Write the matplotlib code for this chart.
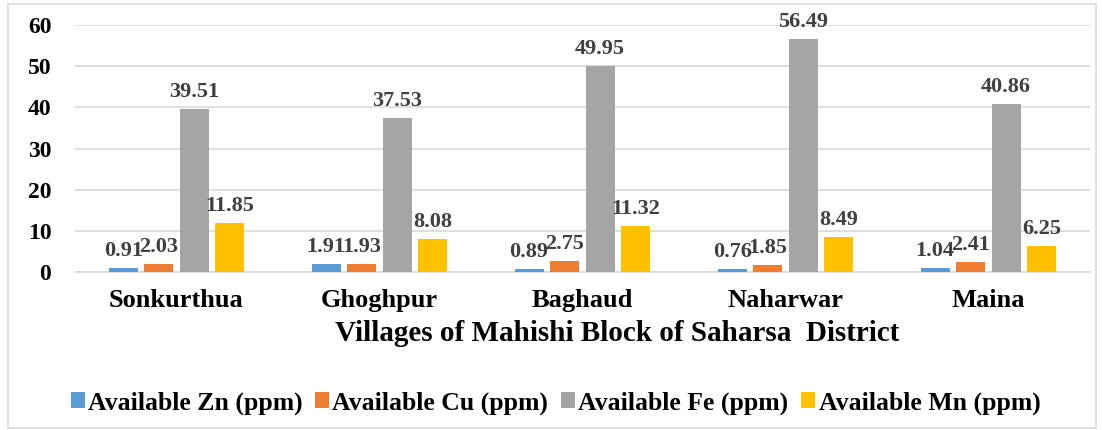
import numpy as np
from matplotlib import pyplot as plt
from matplotlib.patches import Rectangle

villages = ['Sonkurthua', 'Ghoghpur', 'Baghaud', 'Naharwar', 'Maina']
zn = [0.91, 1.91, 0.89, 0.76, 1.04]
cu = [2.03, 1.93, 2.75, 1.85, 2.41]
fe = [39.51, 37.53, 49.95, 56.49, 40.86]
mn = [11.85, 8.08, 11.32, 8.49, 6.25]
series_names = ['Available Zn (ppm)', 'Available Cu (ppm)',
                'Available Fe (ppm)', 'Available Mn (ppm)']
colors = ['#5B9BD5', '#ED7D31', '#A5A5A5', '#FFC000']

plt.rcParams['font.family'] = ['Liberation Serif', 'DejaVu Serif']
plt.rcParams['font.weight'] = 'bold'

fig = plt.figure(figsize=(11.02, 4.30), dpi=100)
ax = fig.add_axes([0.068, 0.367, 0.921, 0.575])

x = np.arange(len(villages))
width = 0.143
pitch = 0.175
for i, (vals, name, c) in enumerate(zip([zn, cu, fe, mn], series_names, colors)):
    pos = x + (i - 1.5) * pitch
    bars = ax.bar(pos, vals, width, color=c, label=name, zorder=3)
    ax.bar_label(bars, labels=[f'{v:g}' for v in vals],
                 padding=5, fontsize=16, fontweight='bold', color='#404040')

ax.set_xlim(-0.5, len(villages) - 0.5)
ax.set_ylim(0, 60)
ax.set_yticks(range(0, 61, 10))
ax.yaxis.grid(True, color='#d9d9d9', linewidth=1.2, zorder=0)
ax.tick_params(axis='y', length=0, labelsize=17, pad=17)
ax.tick_params(axis='x', length=0, labelsize=19, pad=12)
ax.set_xticks(x)
ax.set_xticklabels(villages, fontweight='bold')
for lab in ax.get_yticklabels():
    lab.set_fontweight('bold')
for s in ['top', 'right', 'left']:
    ax.spines[s].set_visible(False)
ax.spines['bottom'].set_color('#d9d9d9')
ax.spines['bottom'].set_linewidth(1.2)

ax.set_xlabel('Villages of Mahishi Block of Saharsa  District', fontsize=21,
              fontweight='bold')
ax.xaxis.set_label_coords(0.534, -0.195)

fig.legend(loc='center left', bbox_to_anchor=(0.043, 0.063), ncol=4, frameon=False,
           fontsize=18.5, handlelength=0.55, handleheight=0.55, handletextpad=0.12,
           columnspacing=0.5)

fig.patches.append(Rectangle((0.007, 0.005), 0.988, 0.985, transform=fig.transFigure,
                             fill=False, edgecolor='#d9d9d9', linewidth=1.2))

plt.savefig('out.png', dpi=100)
